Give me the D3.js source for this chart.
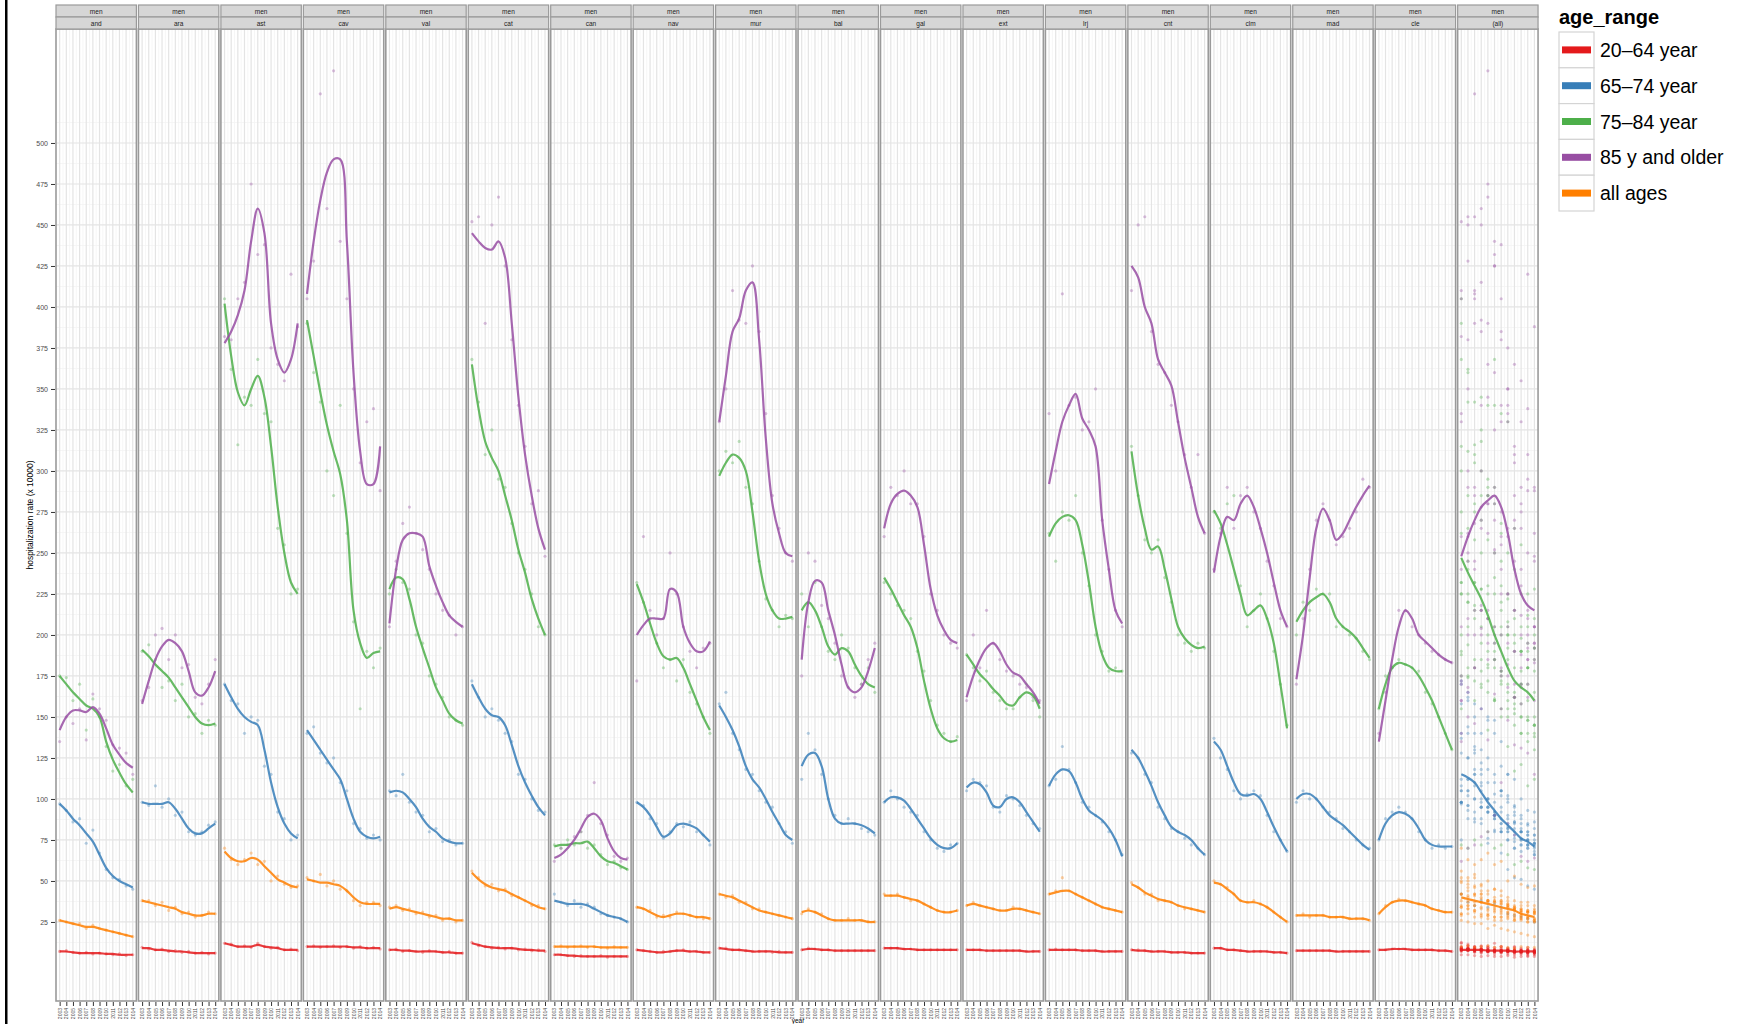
<!DOCTYPE html>
<html>
<head>
<meta charset="utf-8">
<script src="https://cdn.jsdelivr.net/npm/d3@7/dist/d3.min.js"></script>
<style>
body { margin: 0; background: #fff; }
text { font-family: "Liberation Sans", Arial, sans-serif; }
</style>
</head>
<body>
<div id="chart"></div>
<script>
var w = 1753;
var h = 1024;

var regions = ["and", "ara", "ast", "cav", "val", "cat", "can", "nav", "mur",
    "bal", "gal", "ext", "lrj", "cnt", "clm", "mad", "cle", "(all)"];
var ageRanges = ["20\u201364 year", "65\u201374 year", "75\u201384 year", "85 y and older", "all ages"];
var years = [2003, 2004, 2005, 2006, 2007, 2008, 2009, 2010, 2011, 2012, 2013, 2014];
var yTicks = [25, 50, 75, 100, 125, 150, 175, 200, 225, 250, 275, 300, 325, 350, 375, 400, 425, 450, 475, 500];

// smoothed lines, one row per region (last row = all regions)
var fit20_64 = [
    [7, 7, 6.5, 6, 6, 6, 6, 5.5, 5.5, 5, 5, 5],
    [9, 9, 8, 8, 7.5, 7, 7, 6.5, 6, 6, 6, 6],
    [12, 11, 10, 10, 10, 11, 10, 9.5, 9, 8, 8, 8],
    [10, 10, 10, 10, 10, 10, 10, 9.5, 9.5, 9, 9, 9],
    [8, 8, 7.5, 7.5, 7, 7, 7, 7, 6.5, 6.5, 6, 6],
    [12, 11, 10, 9.5, 9, 9, 9, 8.5, 8, 8, 7.5, 7.5],
    [5, 5, 4.5, 4.5, 4, 4, 4, 4, 4, 4, 4, 4],
    [8, 7.5, 7, 6.5, 6.5, 7, 7.5, 7.5, 7, 7, 6.5, 6.5],
    [9, 8.5, 8, 8, 7.5, 7, 7, 7, 7, 6.5, 6.5, 6.5],
    [8, 8.5, 8.5, 8, 8, 7.5, 7.5, 7.5, 7.5, 7.5, 7.5, 7.5],
    [9, 9, 9, 8.5, 8.5, 8, 8, 8, 8, 8, 8, 8],
    [8, 8, 8, 7.5, 7.5, 7.5, 7.5, 7.5, 7.5, 7, 7, 7],
    [8, 8, 8, 8, 8, 7.5, 7.5, 7.5, 7, 7, 7, 7],
    [8, 7.5, 7.5, 7, 7, 7, 6.5, 6.5, 6.5, 6, 6, 6],
    [9, 9, 8, 8, 7.5, 7, 7, 7, 7, 6.5, 6.5, 6],
    [7.5, 7.5, 7.5, 7.5, 7.5, 7.5, 7, 7, 7, 7, 7, 7],
    [8, 8, 8.5, 8.5, 8.5, 8, 8, 8, 8, 7.5, 7.5, 7],
    [8, 8, 8, 8, 7.5, 7.5, 7.5, 7.5, 7, 7, 7, 7]
];
var fit65_74 = [
    [97, 93, 88, 84, 79, 74, 66, 58, 53, 50, 48, 46],
    [98, 97, 97, 97, 98, 94, 88, 82, 79, 79, 82, 85],
    [170, 162, 155, 150, 147, 145, 130, 110, 95, 85, 79, 76],
    [142, 136, 130, 124, 118, 112, 100, 88, 80, 77, 76, 77],
    [104, 105, 104, 100, 95, 88, 83, 80, 76, 74, 73, 73],
    [170, 162, 155, 151, 150, 145, 133, 120, 110, 102, 95, 90],
    [38, 37, 36, 36, 36, 35, 33, 31, 29, 28, 27, 25],
    [98, 95, 90, 83, 77, 79, 84, 85, 84, 82, 78, 74],
    [157, 150, 142, 132, 120, 112, 107, 100, 92, 85, 78, 75],
    [120, 127, 128, 120, 100, 88, 85, 85, 85, 84, 82, 79],
    [98, 101, 101, 99, 94, 88, 82, 76, 72, 70, 70, 73],
    [107, 110, 109, 104, 96, 95, 100, 101, 98, 92, 86, 80],
    [108, 115, 118, 117, 110, 100, 93, 90, 87, 82, 75, 65],
    [130, 125, 117, 108, 98, 90, 83, 80, 78, 75, 70, 66],
    [135, 130, 120, 110, 103, 102, 103, 100, 92, 83, 75, 68],
    [100, 103, 103, 100, 95, 90, 87, 84, 80, 76, 72, 69],
    [75, 85, 90, 92, 91, 88, 82, 75, 72, 71, 71, 71],
    [115, 113, 110, 104, 98, 93, 88, 84, 80, 76, 74, 71]
];
var fit75_84 = [
    [175, 170, 165, 161, 157, 155, 150, 135, 124, 116, 109, 104],
    [191, 187, 182, 178, 174, 168, 162, 156, 150, 146, 145, 146],
    [402, 370, 348, 340, 350, 358, 345, 315, 278, 250, 232, 225],
    [392, 370, 348, 328, 312, 298, 270, 215, 195, 186, 189, 190],
    [228, 235, 234, 222, 205, 192, 180, 168, 160, 152, 148, 146],
    [365, 338, 318, 308, 300, 285, 270, 252, 238, 222, 210, 200],
    [71, 72, 72, 73, 73, 74, 70, 65, 62, 61, 59, 57],
    [231, 220, 207, 195, 187, 185, 186, 180, 170, 160, 150, 142],
    [297, 305, 310, 308, 300, 275, 245, 225, 215, 210, 210, 211],
    [215, 220, 215, 205, 193, 188, 192, 190, 182, 175, 170, 168],
    [235, 228, 220, 212, 205, 192, 172, 155, 143, 137, 135, 136],
    [188, 182, 176, 172, 167, 163, 158, 157, 162, 165, 163, 155],
    [260, 268, 272, 273, 270, 255, 232, 205, 188, 180, 178, 178],
    [312, 285, 265, 252, 254, 240, 222, 205, 198, 194, 192, 193],
    [276, 268, 255, 240, 225, 212, 215, 218, 210, 195, 170, 143],
    [208, 215, 220, 223, 225, 220, 210, 205, 202, 198, 192, 186],
    [155, 170, 180, 183, 182, 180, 175, 168, 160, 150, 140, 130],
    [247, 238, 230, 222, 212, 200, 190, 180, 172, 168, 165, 160]
];
var fit85plus = [
    [142, 150, 154, 154, 153, 156, 152, 143, 133, 127, 122, 119],
    [158, 172, 185, 193, 197, 195, 190, 178, 165, 163, 168, 178],
    [378, 385, 395, 410, 440, 460, 445, 390, 368, 360, 368, 390],
    [408, 440, 465, 482, 490, 490, 440, 360, 312, 292, 292, 315],
    [207, 240, 258, 262, 262, 260, 242, 230, 220, 212, 208, 205],
    [445, 440, 436, 435, 440, 430, 390, 345, 310, 285, 265, 252],
    [64, 66, 70, 75, 82, 89, 91, 87, 76, 68, 64, 63],
    [200, 206, 210, 210, 210, 228, 226, 205, 195, 190, 190, 196],
    [330, 358, 385, 393, 410, 415, 380, 320, 280, 262, 250, 248],
    [185, 220, 233, 232, 215, 200, 182, 168, 165, 168, 178, 192],
    [265, 280, 286, 288, 285, 278, 255, 228, 212, 203, 197, 195],
    [162, 175, 185, 192, 195, 190, 182, 177, 175, 170, 165, 158],
    [292, 312, 330, 340, 347, 332, 325, 315, 270, 240, 215, 207],
    [425, 418, 400, 390, 368, 360, 352, 330, 308, 290, 272, 262],
    [238, 260, 272, 270, 280, 285, 278, 265, 250, 232, 215, 205],
    [173, 200, 235, 265, 277, 270, 258, 262, 270, 278, 285, 291],
    [135, 160, 185, 205, 215, 210, 200, 196, 192, 188, 185, 183],
    [248, 260, 270, 278, 282, 285, 278, 262, 240, 225, 218, 215]
];
var fitAllAges = [
    [26, 25, 24, 23, 22, 22, 21, 20, 19, 18, 17, 16],
    [38, 37, 36, 35, 34, 33, 31, 30, 29, 29, 30, 30],
    [68, 64, 62, 62, 64, 63, 59, 55, 51, 49, 47, 46],
    [51, 50, 49, 49, 48, 47, 44, 40, 37, 36, 36, 36],
    [33, 34, 33, 32, 31, 30, 29, 28, 27, 27, 26, 26],
    [55, 51, 48, 46, 45, 44, 42, 40, 38, 36, 34, 33],
    [10, 10, 10, 10, 10, 10, 10, 9.5, 9.5, 9.5, 9.5, 9.5],
    [34, 33, 31, 29, 28, 29, 30, 30, 29, 28, 28, 27],
    [42, 41, 40, 38, 36, 34, 32, 31, 30, 29, 28, 27],
    [31, 32, 31, 29, 27, 26, 26, 26, 26, 26, 25, 25],
    [41, 41, 41, 40, 39, 38, 36, 34, 32, 31, 31, 32],
    [35, 36, 35, 34, 33, 32, 32, 33, 33, 32, 31, 30],
    [42, 43, 44, 44, 42, 40, 38, 36, 34, 33, 32, 31],
    [48, 46, 43, 41, 39, 38, 37, 35, 34, 33, 32, 31],
    [49, 48, 45, 42, 38, 37, 37, 36, 34, 31, 28, 25],
    [29, 29, 29, 29, 29, 28, 28, 28, 27, 27, 27, 26],
    [30, 34, 37, 38, 38, 37, 36, 35, 33, 32, 31, 31],
    [40, 39, 38, 37, 36, 35, 34, 33, 32, 30, 29, 28]
];

// observed rates, one row per region (the "(all)" panel shows all of them)
var obs20_64 = [
    [7, 7.5, 6.5, 6, 6.5, 5.5, 6, 5.5, 5, 5.5, 4.5, 5],
    [9.5, 8.5, 8, 8.5, 7, 7.5, 6.5, 7, 6, 6.5, 5.5, 6],
    [12, 11.5, 10, 10.5, 9.5, 12, 10, 9, 9.5, 8, 8.5, 7.5],
    [10, 10.5, 9.5, 10, 10.5, 9.5, 10, 9, 10, 9, 9.5, 8.5],
    [8, 8.5, 7, 7.5, 7, 6.5, 7.5, 7, 6.5, 7, 6, 6],
    [12.5, 10.5, 10, 9, 9.5, 8.5, 9, 8, 8.5, 7.5, 8, 7],
    [5, 5, 4.5, 4, 4.5, 4, 4, 4.5, 3.5, 4, 4, 4],
    [8, 7.5, 7, 6.5, 7, 7, 7.5, 8, 7, 7, 6.5, 6.5],
    [9, 9, 8, 8, 7.5, 7, 7, 7, 6.5, 7, 6.5, 6.5],
    [8, 9, 8.5, 8, 8, 7.5, 7.5, 7.5, 7.5, 7.5, 7.5, 7.5],
    [9, 9, 9, 8.5, 8.5, 8, 8, 8, 8, 8, 8, 8],
    [8, 8, 8, 7.5, 7.5, 7.5, 7.5, 7.5, 7.5, 7, 7, 7],
    [8, 8.5, 8, 8, 8, 7.5, 7.5, 7.5, 7, 7, 7, 7],
    [8, 8, 7.5, 7, 7, 7, 6.5, 6.5, 6.5, 6, 6, 6],
    [9, 9, 8, 8, 7.5, 7, 7, 7, 7, 6.5, 6.5, 6],
    [7.5, 7.5, 7.5, 7.5, 7.5, 7.5, 7, 7, 7, 7, 7, 7],
    [8, 8, 8.5, 8.5, 8.5, 8, 8, 8, 8, 7.5, 7.5, 7]
];
var obs65_74 = [
    [97, 93, 86, 88, 73, 81, 67, 57, 52, 51, 47, 45],
    [98, 96, 108, 95, 100, 90, 92, 80, 78, 80, 84, 86],
    [170, 160, 158, 140, 150, 148, 120, 115, 92, 88, 75, 78],
    [140, 144, 128, 122, 125, 110, 105, 85, 82, 76, 78, 75],
    [105, 102, 115, 98, 92, 90, 80, 82, 74, 75, 72, 73],
    [172, 162, 150, 155, 148, 140, 135, 115, 112, 100, 93, 92],
    [42, 37, 35, 38, 34, 36, 34, 30, 29, 28, 27, 25],
    [98, 96, 88, 85, 76, 80, 85, 83, 86, 80, 78, 72],
    [158, 165, 140, 130, 118, 115, 105, 98, 95, 85, 80, 73],
    [112, 140, 130, 115, 100, 90, 85, 88, 85, 82, 80, 78],
    [98, 105, 100, 95, 92, 90, 80, 75, 70, 68, 72, 73],
    [105, 112, 110, 108, 95, 92, 102, 100, 96, 90, 85, 82],
    [108, 112, 132, 118, 110, 98, 95, 90, 86, 80, 75, 66],
    [128, 125, 115, 110, 95, 88, 82, 80, 76, 72, 70, 66],
    [137, 125, 118, 105, 100, 103, 105, 102, 90, 80, 75, 68],
    [98, 105, 100, 100, 95, 92, 88, 82, 80, 75, 72, 70],
    [75, 88, 92, 95, 92, 88, 80, 75, 70, 72, 70, 71]
];
var obs75_84 = [
    [175, 174, 160, 170, 142, 161, 150, 132, 117, 121, 108, 112],
    [190, 194, 185, 168, 172, 160, 170, 150, 152, 140, 148, 145],
    [405, 362, 316, 345, 340, 368, 335, 330, 265, 255, 225, 228],
    [390, 360, 342, 300, 285, 340, 262, 208, 155, 190, 180, 192],
    [225, 240, 232, 228, 200, 195, 175, 170, 162, 150, 148, 145],
    [368, 342, 310, 325, 295, 290, 268, 250, 240, 225, 205, 200],
    [72, 70, 75, 72, 80, 70, 72, 66, 60, 62, 58, 57],
    [232, 220, 210, 195, 180, 185, 172, 185, 165, 158, 150, 140],
    [300, 312, 305, 318, 290, 280, 245, 222, 215, 205, 212, 210],
    [225, 205, 232, 205, 190, 185, 200, 192, 180, 170, 180, 165],
    [232, 225, 218, 215, 210, 190, 178, 160, 145, 140, 135, 138],
    [188, 180, 172, 178, 165, 160, 155, 155, 162, 170, 160, 150],
    [262, 245, 275, 270, 285, 250, 230, 200, 190, 178, 180, 178],
    [315, 285, 258, 250, 258, 235, 220, 200, 195, 190, 195, 192],
    [275, 265, 280, 285, 230, 205, 215, 225, 210, 190, 170, 145],
    [200, 220, 215, 228, 225, 225, 205, 205, 200, 198, 190, 185],
    [155, 175, 180, 185, 182, 180, 178, 165, 158, 150, 140, 130]
];
var obs85plus = [
    [135, 150, 146, 155, 136, 164, 155, 148, 133, 131, 128, 115],
    [160, 168, 200, 204, 185, 200, 180, 182, 162, 158, 170, 185],
    [382, 380, 405, 415, 475, 432, 438, 375, 365, 355, 420, 388],
    [405, 428, 530, 460, 544, 440, 405, 350, 305, 330, 338, 288],
    [205, 245, 268, 278, 262, 252, 240, 225, 215, 212, 200, 205],
    [452, 455, 390, 450, 467, 425, 380, 340, 315, 280, 288, 248],
    [62, 70, 72, 77, 80, 90, 110, 85, 78, 65, 62, 64],
    [172, 260, 215, 200, 210, 250, 225, 205, 190, 180, 192, 195],
    [330, 350, 410, 392, 390, 425, 385, 335, 285, 265, 250, 245],
    [175, 250, 245, 218, 210, 195, 175, 168, 162, 170, 185, 195],
    [260, 290, 285, 300, 280, 280, 260, 225, 215, 200, 195, 192],
    [160, 200, 180, 215, 195, 185, 178, 175, 170, 168, 162, 160],
    [335, 300, 408, 340, 345, 325, 330, 350, 270, 240, 215, 205],
    [410, 450, 455, 385, 365, 360, 340, 330, 310, 290, 310, 262],
    [240, 262, 290, 265, 285, 290, 275, 265, 245, 230, 210, 205],
    [170, 210, 240, 270, 280, 270, 255, 260, 265, 275, 295, 290],
    [140, 165, 180, 215, 215, 205, 200, 195, 190, 188, 185, 183]
];
var obsAllAges = [
    [26, 25, 24, 24, 21, 23, 21, 20, 19, 18, 17, 16],
    [38, 38, 35, 37, 32, 34, 30, 31, 28, 29, 31, 30],
    [70, 63, 60, 63, 67, 60, 62, 50, 53, 48, 46, 47],
    [52, 50, 54, 47, 50, 45, 44, 38, 35, 37, 37, 35],
    [34, 35, 32, 33, 30, 31, 28, 29, 26, 27, 25, 26],
    [56, 52, 47, 48, 44, 45, 41, 40, 38, 35, 35, 33],
    [10, 10.5, 9.5, 10, 10.5, 9.5, 10, 9.5, 9, 10, 9.5, 9.5],
    [34, 33, 32, 28, 29, 28, 31, 30, 29, 28, 27, 27],
    [42, 40, 41, 37, 37, 33, 33, 31, 30, 29, 28, 27],
    [30, 33, 31, 30, 27, 26, 26, 27, 26, 26, 25, 25],
    [42, 41, 42, 40, 38, 38, 36, 34, 32, 31, 31, 32],
    [35, 37, 35, 34, 33, 32, 32, 34, 33, 32, 31, 30],
    [42, 44, 52, 44, 42, 40, 38, 36, 34, 33, 32, 31],
    [49, 46, 42, 42, 38, 38, 37, 35, 33, 33, 32, 31],
    [50, 48, 46, 42, 38, 37, 38, 36, 34, 31, 28, 25],
    [29, 30, 28, 29, 29, 28, 28, 28, 27, 27, 27, 26],
    [30, 35, 37, 39, 38, 37, 36, 35, 33, 32, 31, 31]
];

var colors = ["#e41a1c", "#377eb8", "#4daf4a", "#984ea3", "#ff7f00"];
var fits = [fit20_64, fit65_74, fit75_84, fit85plus, fitAllAges];
var obs = [obs20_64, obs65_74, obs75_84, obs85plus, obsAllAges];

var svg = d3.select("#chart")
    .append("svg")
    .attr("width", w)
    .attr("height", h);

svg.append("rect").attr("width", w).attr("height", h).attr("fill", "#fff");
svg.append("rect").attr("x", 5).attr("y", 0).attr("width", 2.5).attr("height", h).attr("fill", "#000");

var left0 = 56, pitch = 82.45, pw = 80.4;
var top0 = 29, bottom0 = 1001, stripH = 12;

var xScale = d3.scaleLinear().domain([years[0] - 0.55, years[years.length - 1] + 0.55]).range([0, pw]);
var yScale = d3.scaleLinear().domain([-23.2, 569.5]).range([bottom0, top0]);

var line = d3.line()
    .x(function (d) { return xScale(d[0]); })
    .y(function (d) { return yScale(d[1]); })
    .curve(d3.curveCatmullRom);

var minorX = years.slice(1).map(function (d) { return d - 0.5; });
var minorY = yTicks.map(function (d) { return d - 12.5; }).concat([512.5]);

regions.forEach(function (reg, i) {
    var g = svg.append("g").attr("transform", "translate(" + (left0 + i * pitch) + ",0)");

    g.append("rect").attr("x", 0).attr("y", top0).attr("width", pw).attr("height", bottom0 - top0).attr("fill", "#fff");

    // grid
    g.selectAll(".gminx").data(minorX).enter().append("line")
        .attr("x1", function (d) { return xScale(d); }).attr("x2", function (d) { return xScale(d); })
        .attr("y1", top0).attr("y2", bottom0).attr("stroke", "#f4f4f4").attr("stroke-width", 0.8);
    g.selectAll(".gminy").data(minorY).enter().append("line")
        .attr("y1", function (d) { return yScale(d); }).attr("y2", function (d) { return yScale(d); })
        .attr("x1", 0).attr("x2", pw).attr("stroke", "#f4f4f4").attr("stroke-width", 0.8);
    g.selectAll(".gmajx").data(years).enter().append("line")
        .attr("x1", function (d) { return xScale(d); }).attr("x2", function (d) { return xScale(d); })
        .attr("y1", top0).attr("y2", bottom0).attr("stroke", "#e4e4e4").attr("stroke-width", 1.2);
    g.selectAll(".gmajy").data(yTicks).enter().append("line")
        .attr("y1", function (d) { return yScale(d); }).attr("y2", function (d) { return yScale(d); })
        .attr("x1", 0).attr("x2", pw).attr("stroke", "#e4e4e4").attr("stroke-width", 1.2);

    // points
    var pts = [];
    obs.forEach(function (series, s) {
        var rows = i < regions.length - 1 ? [series[i]] : series;
        rows.forEach(function (row) {
            row.forEach(function (v, k) { pts.push([years[k], v, s]); });
        });
    });
    g.selectAll(".pt").data(pts).enter().append("circle")
        .attr("cx", function (d) { return xScale(d[0]); })
        .attr("cy", function (d) { return yScale(d[1]); })
        .attr("r", 1.6)
        .attr("fill", function (d) { return colors[d[2]]; })
        .attr("fill-opacity", 0.35);

    // smoothed lines
    fits.forEach(function (series, s) {
        g.append("path")
            .datum(series[i].map(function (v, k) { return [years[k], v]; }))
            .attr("d", line)
            .attr("fill", "none")
            .attr("stroke", colors[s])
            .attr("stroke-opacity", 0.85)
            .attr("stroke-width", 2.2);
    });

    g.append("rect").attr("x", 0).attr("y", top0).attr("width", pw).attr("height", bottom0 - top0)
        .attr("fill", "none").attr("stroke", "#9a9a9a").attr("stroke-width", 1.6);

    // strips
    [["men", 5], [reg, 5 + stripH]].forEach(function (s) {
        g.append("rect").attr("x", 0).attr("y", s[1]).attr("width", pw).attr("height", stripH)
            .attr("fill", "#d6d6d6").attr("stroke", "#9a9a9a").attr("stroke-width", 1.2);
        g.append("text").attr("x", pw / 2).attr("y", s[1] + 8.5).attr("text-anchor", "middle")
            .attr("font-size", "6.5px").attr("fill", "#1a1a1a").text(s[0]);
    });

    // x axis
    var xAxis = d3.axisBottom(xScale).tickValues(years).tickFormat(d3.format("d")).tickSize(4).tickSizeOuter(0);
    var ax = g.append("g").attr("transform", "translate(0," + (bottom0 + 1) + ")").call(xAxis);
    ax.select(".domain").remove();
    ax.selectAll("line").attr("stroke", "#333");
    ax.selectAll("text")
        .attr("transform", "rotate(-90)")
        .attr("text-anchor", "end")
        .attr("x", -6).attr("y", 0).attr("dy", "0.32em")
        .attr("font-size", "5px").attr("fill", "#4d4d4d")
        .attr("font-family", "Liberation Sans, Arial, sans-serif");
});

// y axis
var yAxis = d3.axisLeft(yScale).tickValues(yTicks).tickSize(4).tickSizeOuter(0);
var ya = svg.append("g").attr("transform", "translate(" + (left0 - 1) + ",0)").call(yAxis);
ya.select(".domain").remove();
ya.selectAll("line").attr("stroke", "#333");
ya.selectAll("text").attr("font-size", "7px").attr("fill", "#4d4d4d")
    .attr("font-family", "Liberation Sans, Arial, sans-serif");

svg.append("text")
    .attr("transform", "translate(33," + ((top0 + bottom0) / 2) + ") rotate(-90)")
    .attr("text-anchor", "middle")
    .attr("font-size", "8.5px").attr("fill", "#000")
    .text("hospitalization rate (x 10000)");

svg.append("text")
    .attr("x", left0 + (pitch * regions.length) / 2).attr("y", 1023)
    .attr("text-anchor", "middle").attr("font-size", "6.5px").attr("fill", "#000")
    .text("year");

// legend
var lg = svg.append("g").attr("transform", "translate(1559,0)");
lg.append("text").attr("x", 0).attr("y", 24).attr("font-size", "20px").attr("font-weight", "bold")
    .attr("fill", "#000").text("age_range");
ageRanges.forEach(function (a, k) {
    var y0 = 32 + k * 35.8;
    lg.append("rect").attr("x", 0).attr("y", y0).attr("width", 35).attr("height", 35.8)
        .attr("fill", "#fff").attr("stroke", "#d4d4d4").attr("stroke-width", 1.2);
    lg.append("line").attr("x1", 3).attr("x2", 32).attr("y1", y0 + 17.9).attr("y2", y0 + 17.9)
        .attr("stroke", colors[k]).attr("stroke-width", 7);
    lg.append("circle").attr("cx", 17.5).attr("cy", y0 + 17.9).attr("r", 2.5)
        .attr("fill", colors[k]).attr("fill-opacity", 0.5);
    lg.append("text").attr("x", 41).attr("y", y0 + 25).attr("font-size", "19.5px")
        .attr("fill", "#000").text(a);
});
</script>
</body>
</html>
